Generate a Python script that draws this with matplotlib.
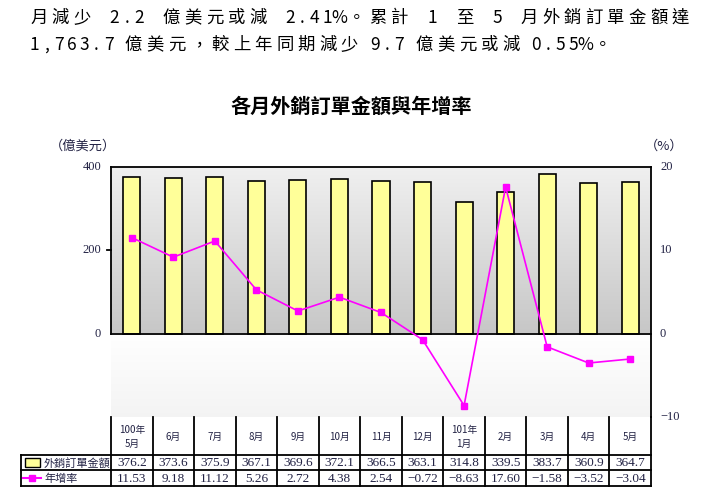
import numpy as np
import matplotlib
matplotlib.use("Agg")
import matplotlib.pyplot as plt
from matplotlib.patches import Rectangle

plt.rcParams['font.family'] = ['Noto Sans CJK TC', 'DejaVu Sans']

# ---------------- data ----------------
months = ["100年\n5月", "6月", "7月", "8月", "9月", "10月", "11月", "12月",
          "101年\n1月", "2月", "3月", "4月", "5月"]
orders = [376.2, 373.6, 375.9, 367.1, 369.6, 372.1, 366.5, 363.1,
          314.8, 339.5, 383.7, 360.9, 364.7]
growth = [11.53, 9.18, 11.12, 5.26, 2.72, 4.38, 2.54, -0.72,
          -8.63, 17.60, -1.58, -3.52, -3.04]
left_ticks = [0, 200, 400]
right_ticks = [-10, 0, 10, 20]
series_names = ["外銷訂單金額", "年增率"]
title = "各月外銷訂單金額與年增率"
intro_lines = ["月減少 2.2 億美元或減 2.41%。累計 1 至 5 月外銷訂單金額達",
               "1,763.7 億美元，較上年同期減少 9.7 億美元或減 0.55%。"]

W, H = 705, 498
fig = plt.figure(figsize=(W / 100, H / 100), dpi=100)

def fx(x):
    return x / W

def fy(y):
    return 1 - y / H

# plot area in pixels
X0, X1 = 111, 651
Y_TOP, Y_BOT = 167, 417
ax = fig.add_axes([fx(X0), fy(Y_BOT), (X1 - X0) / W, (Y_BOT - Y_TOP) / H])
n = len(orders)
x = np.arange(n)
for s in ax.spines.values():
    s.set_visible(False)
ax.set_xticks([])
ax.set_yticks([])

# gradient backgrounds
up = np.linspace(0.78, 0.94, 100).reshape(-1, 1)
ax.imshow(np.dstack([up, up, up]), extent=(-0.5, n - 0.5, 400, 0),
          aspect='auto', zorder=0, origin='upper')
lo = np.linspace(0.955, 1.0, 100).reshape(-1, 1)
ax.imshow(np.dstack([lo, lo, lo]), extent=(-0.5, n - 0.5, 0, -200),
          aspect='auto', zorder=0, origin='upper')
ax.set_xlim(-0.5, n - 0.5)
ax.set_ylim(-200, 400)

ax.bar(x, orders, width=0.41, color='#ffff99', edgecolor='black', linewidth=1.2, zorder=2)

# frame
k = dict(color='black', linewidth=1.3, zorder=3, clip_on=False)
ax.plot([-0.5, n - 0.5], [400, 400], **k)
ax.plot([-0.5, -0.5], [0, 400], **k)
ax.plot([n - 0.5, n - 0.5], [-200, 400], **k)
ax.plot([-0.5, n - 0.5], [0, 0], **k)
ax.plot([-0.6, -0.5], [200, 200], **k)

ax2 = ax.twinx()
ax2.set_ylim(-10, 20)
ax2.set_xlim(-0.5, n - 0.5)
for s in ax2.spines.values():
    s.set_visible(False)
ax2.set_yticks([])
ax2.plot(x, growth, color='#ff00ff', linewidth=1.2, marker='s', markersize=4.5,
         markeredgecolor='#ff00ff', zorder=4)

# tick labels
tick_font = dict(family='Liberation Serif', fontsize=9, color='#222244')
for t in left_ticks:
    yy = Y_BOT - (t + 200) / 600 * (Y_BOT - Y_TOP)
    fig.text(fx(101), fy(yy), str(t), ha='right', va='center', **tick_font)
for t in right_ticks:
    yy = Y_BOT - (t + 10) / 30 * (Y_BOT - Y_TOP)
    lab = str(t).replace('-', '\u2212')
    fig.text(fx(660), fy(yy), lab, ha='left', va='center', **tick_font)

fig.text(fx(50), fy(146), "（億美元）", ha='left', va='center', fontsize=9.5, color='#222244')
fig.text(fx(645), fy(146), "（%）", ha='left', va='center', fontsize=9.5, color='#222244')

fig.text(fx(351), fy(106), title, ha='center', va='center', fontsize=14.5,
         fontweight='bold', color='black')

# intro paragraph, laid out on a fixed character grid
def draw_line(s, x_start, y, space_w, full_w=21.6, half_w=12.4, size=12.5):
    xx = x_start
    for ch in s:
        if ch == ' ':
            xx += space_w
            continue
        w = half_w if ord(ch) < 0x2E80 else full_w
        fig.text(fx(xx + w / 2), fy(y), ch, ha='center', va='center',
                 fontsize=size, color='black')
        xx += w

draw_line(intro_lines[0], 28, 18, 15.3)
draw_line(intro_lines[1], 28, 45, 8.0)

# ---------------- table ----------------
tb = fig.add_axes([0, 0, 1, 1])
tb.set_xlim(0, W)
tb.set_ylim(H, 0)
tb.axis('off')
tb.patch.set_alpha(0)

R0, R1, R2, R3 = 417, 455, 470, 486
C_L = 21
cw = (X1 - X0) / n
lw = 1.3
tb.plot([C_L, X1], [R1, R1], color='black', lw=lw)
tb.plot([C_L, X1], [R2, R2], color='black', lw=lw)
tb.plot([C_L, X1], [R3, R3], color='black', lw=lw)
tb.plot([C_L, C_L], [R1, R3], color='black', lw=lw)
for i in range(n + 1):
    xx = X0 + i * cw
    tb.plot([xx, xx], [R0, R3], color='black', lw=lw)

val_font = dict(family='Liberation Serif', fontsize=9.5, color='#222244')
for i in range(n):
    cx = X0 + (i + 0.5) * cw
    tb.text(cx, (R0 + R1) / 2 + 1, months[i], ha='center', va='center',
            fontsize=7, linespacing=1.5, color='#222244')
    tb.text(cx, (R1 + R2) / 2 + 0.5, f"{orders[i]:.1f}", ha='center', va='center', **val_font)
    tb.text(cx, (R2 + R3) / 2 + 0.5, f"{growth[i]:.2f}".replace('-', '\u2212'),
            ha='center', va='center', **val_font)

tb.add_patch(Rectangle((25, 458), 15, 9, facecolor='#ffff99', edgecolor='black', lw=1.0))
tb.text(44, (R1 + R2) / 2 + 0.5, series_names[0], ha='left', va='center', fontsize=8, color='#222244')
tb.plot([23, 41], [478, 478], color='#ff00ff', lw=1.5)
tb.plot([32], [478], marker='s', markersize=4.5, color='#ff00ff')
tb.text(44, (R2 + R3) / 2 + 0.5, series_names[1], ha='left', va='center', fontsize=8, color='#222244')

fig.savefig("out.png", dpi=100)
